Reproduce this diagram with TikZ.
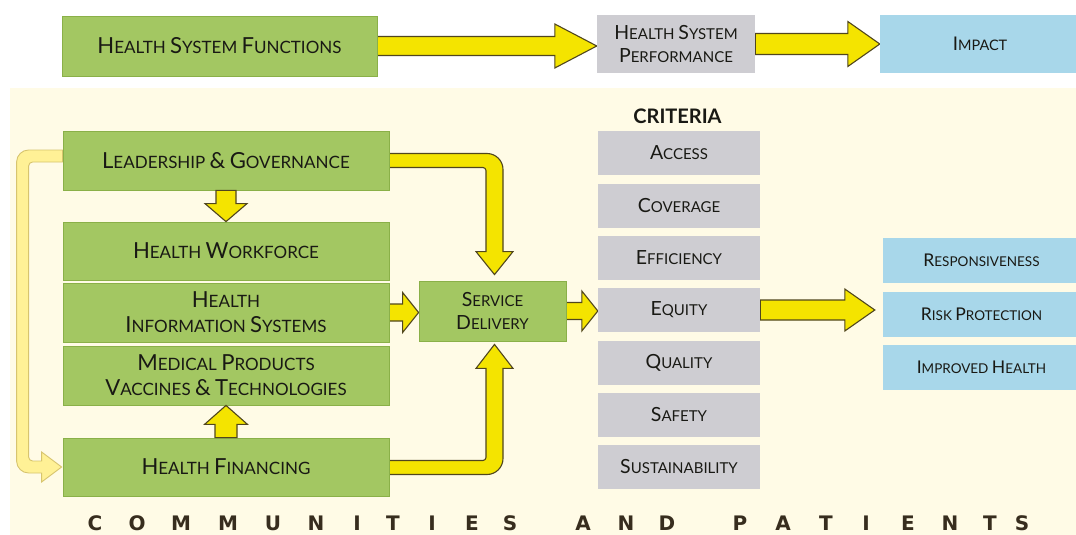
\documentclass[tikz,border=0pt]{standalone}
\usepackage{fontspec}
\setmainfont{Lato}
\newfontfamily\botfont{DejaVu Sans}
\usepackage{graphicx}
\usetikzlibrary{calc}
\pgfdeclarelayer{back}
\pgfdeclarelayer{mid}
\pgfsetlayers{back,mid,main}
\definecolor{grn}{RGB}{163,199,98}
\definecolor{grnd}{RGB}{138,176,72}
\definecolor{gry}{RGB}{206,205,210}
\definecolor{blu}{RGB}{168,215,234}
\definecolor{crm}{RGB}{255,251,230}
\definecolor{yel}{RGB}{244,228,0}
\definecolor{yeld}{RGB}{80,70,30}
\definecolor{lyel}{RGB}{255,241,150}
\definecolor{lyeld}{RGB}{215,196,110}
\definecolor{txt}{RGB}{25,25,20}
\definecolor{btxt}{RGB}{55,45,30}
\newcommand\Kp[1]{\scalebox{1.3}{#1}}
\newcommand\harrow[5]{%
  \coordinate (ht) at (#1 -| #2);
  \filldraw[blk] ($(#1)+(0,-#3)$) -- ($(ht)+(-#5,-#3)$) -- ($(ht)+(-#5,-#4)$) -- (ht)
    -- ($(ht)+(-#5,#4)$) -- ($(ht)+(-#5,#3)$) -- ($(#1)+(0,#3)$) -- cycle;}
\newcommand\varrow[6]{%
  \coordinate (vt) at (#1 |- #2);
  \filldraw[blk] ($(#1)+(-#3,0)$) -- ($(vt)+({-#3},{-(#6)*(#5)})$) -- ($(vt)+({-#4},{-(#6)*(#5)})$) -- (vt)
    -- ($(vt)+({#4},{-(#6)*(#5)})$) -- ($(vt)+({#3},{-(#6)*(#5)})$) -- ($(#1)+(#3,0)$) -- cycle;}
\begin{document}
\begin{tikzpicture}[x=1pt,y=-1pt,
  gbox/.style={fill=grn,draw=grnd,line width=0.8pt,minimum width=326pt,minimum height=59pt,inner sep=0pt,align=center,text=txt,font=\fontsize{17}{25}\selectfont},
  cbox/.style={fill=gry,minimum width=162pt,minimum height=44pt,inner sep=0pt,align=center,text=txt,font=\fontsize{15}{23}\selectfont},
  bbox/.style={fill=blu,minimum width=197pt,minimum height=45pt,inner sep=0pt,align=center,text=txt,font=\fontsize{13.5}{20}\selectfont},
  blk/.style={fill=yel,draw=yeld,line width=1.1pt},
  fbk/.style={fill=lyel,draw=lyeld,line width=0.9pt},
  bot/.style={font=\botfont\bfseries\fontsize{20}{20}\selectfont,text=btxt,anchor=base,inner sep=0pt}]
\useasboundingbox (0,0) rectangle (1076,535);
\begin{pgfonlayer}{back}
  \fill[white] (0,0) rectangle (1076,535);
  \fill[crm] (10,88) rectangle (1076,535);
\end{pgfonlayer}

% top row
\node[gbox,minimum width=315pt,minimum height=60pt] (hsf) at (219.5,46) {\Kp{H}EALTH \Kp{S}YSTEM \Kp{F}UNCTIONS};
\node[cbox,minimum width=158pt,minimum height=58pt] (hsp) at (676,44) {\Kp{H}EALTH \Kp{S}YSTEM\\\Kp{P}ERFORMANCE};
\node[bbox,minimum width=200pt,minimum height=58pt,font=\fontsize{14.5}{20}\selectfont] (imp) at (980,44) {\Kp{I}MPACT};

% left column
\node[gbox] (lg) at (226,160.5) {\Kp{L}EADERSHIP \Kp{\&} \Kp{G}OVERNANCE};
\node[gbox,minimum height=58pt] (hw) at (226,251) {\Kp{H}EALTH \Kp{W}ORKFORCE};
\node[gbox] (his) at (226,312.5) {\Kp{H}EALTH\\\Kp{I}NFORMATION \Kp{S}YSTEMS};
\node[gbox] (mp) at (226,375.5) {\Kp{M}EDICAL \Kp{P}RODUCTS\\\Kp{V}ACCINES \Kp{\&} \Kp{T}ECHNOLOGIES};
\node[gbox,minimum height=58pt] (hf) at (226,467) {\Kp{H}EALTH \Kp{F}INANCING};
\node[gbox,minimum width=147pt,minimum height=60pt,font=\fontsize{15}{23}\selectfont] (sd) at (492.5,311) {\Kp{S}ERVICE\\\Kp{D}ELIVERY};

% criteria
\node[text=txt,font=\bfseries\fontsize{20}{20}\selectfont,inner sep=0pt] (crit) at (677.5,116.5) {CRITERIA};
\node[cbox] (acc) at (679,153) {\Kp{A}CCESS};
\node[cbox] (cov) at (679,205.5) {\Kp{C}OVERAGE};
\node[cbox] (eff) at (679,257.5) {\Kp{E}FFICIENCY};
\node[cbox] (eq)  at (679,310) {\Kp{E}QUITY};
\node[cbox] (qual) at (679,362.5) {\Kp{Q}UALITY};
\node[cbox] (saf) at (679,414.5) {\Kp{S}AFETY};
\node[cbox] (sus) at (679,466.5) {\Kp{S}USTAINABILITY};

% outcomes
\node[bbox] (resp) at (981.5,260.5) {\Kp{R}ESPONSIVENESS};
\node[bbox] (risk) at (981.5,314.5) {\Kp{R}ISK \Kp{P}ROTECTION};
\node[bbox] (imph) at (981.5,367) {\Kp{I}MPROVED \Kp{H}EALTH};

% bottom text
\foreach \l/\x [count=\i] in {C/95,O/137,M/181,M/228,U/273,N/316,I/357,T/393,I/432,E/472,S/510,A/583,N/626,D/667,P/740,A/783,T/826,I/866,E/908,N/950,T/990,S/1022}
  \node[bot] (b\i) at (\x,530) {\l};

% arrows
\begin{pgfonlayer}{mid}
  % feedback arrow
  \coordinate (fa) at ($(lg.west)+(0,-4.5)$);
  \coordinate (fb) at (hf.west);
  \coordinate (k1) at ($(fa)+(-40,0)$);
  \coordinate (k2) at ($(fb)+(-40,0)$);
  \filldraw[fbk] ($(fa)+(0,-6)$) -- ($(k1)+(6,-6)$) .. controls ($(k1)+(-0.6,-6)$) and ($(k1)+(-6,-0.6)$) .. ($(k1)+(-6,6)$)
    -- ($(k2)+(-6,-6)$) .. controls ($(k2)+(-6,0.6)$) and ($(k2)+(-0.6,6)$) .. ($(k2)+(6,6)$)
    -- ($(fb)+(-21,6)$) -- ($(fb)+(-21,15)$) -- ($(fb)+(-1,0)$) -- ($(fb)+(-21,-15)$) -- ($(fb)+(-21,-6)$)
    -- ($(k2)+(10,-6)$) .. controls ($(k2)+(7.8,-6)$) and ($(k2)+(6,-7.8)$) .. ($(k2)+(6,-10)$)
    -- ($(k1)+(6,10)$) .. controls ($(k1)+(6,7.8)$) and ($(k1)+(7.8,6)$) .. ($(k1)+(10,6)$)
    -- ($(fa)+(0,6)$) -- cycle;
  % elbow from leadership to service delivery
  \coordinate (ea) at (lg.east);
  \coordinate (et) at ($(sd.north)+(2,0)$);
  \coordinate (ek) at (et |- ea);
  \filldraw[blk] ($(ea)+(0,-7)$) -- ($(ek)+(-7.5,-7)$) .. controls ($(ek)+(1.3,-7)$) and ($(ek)+(8.5,0.2)$) .. ($(ek)+(8.5,9)$)
    -- ($(et)+(8.5,-29)$) -- ($(et)+(18.5,-29)$) -- ($(et)+(0,-6)$) -- ($(et)+(-18.5,-29)$) -- ($(et)+(-8.5,-29)$)
    -- ($(ek)+(-8.5,10)$) .. controls ($(ek)+(-8.5,8.3)$) and ($(ek)+(-10.2,7)$) .. ($(ek)+(-11.5,7)$)
    -- ($(ea)+(0,7)$) -- cycle;
  % elbow from financing to service delivery
  \coordinate (fa2) at ($(hf.east)+(0,0.5)$);
  \coordinate (ft) at ($(sd.south)+(2,0)$);
  \coordinate (fk) at (ft |- fa2);
  \filldraw[blk] ($(fa2)+(0,7)$) -- ($(fk)+(-7.5,7)$) .. controls ($(fk)+(1.3,7)$) and ($(fk)+(8.5,-0.2)$) .. ($(fk)+(8.5,-9)$)
    -- ($(ft)+(8.5,27)$) -- ($(ft)+(18.5,27)$) -- ($(ft)+(0,3)$) -- ($(ft)+(-18.5,27)$) -- ($(ft)+(-8.5,27)$)
    -- ($(fk)+(-8.5,-10)$) .. controls ($(fk)+(-8.5,-8.3)$) and ($(fk)+(-10.2,-7)$) .. ($(fk)+(-11.5,-7)$)
    -- ($(fa2)+(0,-7)$) -- cycle;
  % straight arrows
  \harrow{hsf.east}{hsp.west}{9.5}{22}{42}
  \harrow{hsp.east}{imp.west}{10.5}{22.5}{32}
  \harrow{his.east}{sd.west}{8.5}{20}{16}
  \harrow{sd.east}{eq.west}{8.5}{20}{16}
  \coordinate (riskin) at ($(risk.west)+(-8,0)$);
  \harrow{eq.east}{riskin}{10}{21}{30}
\end{pgfonlayer}
\varrow{lg.south}{hw.north}{10}{21}{18}{1}
\varrow{hf.north}{mp.south}{11}{21.5}{19}{-1}
\end{tikzpicture}
\end{document}
